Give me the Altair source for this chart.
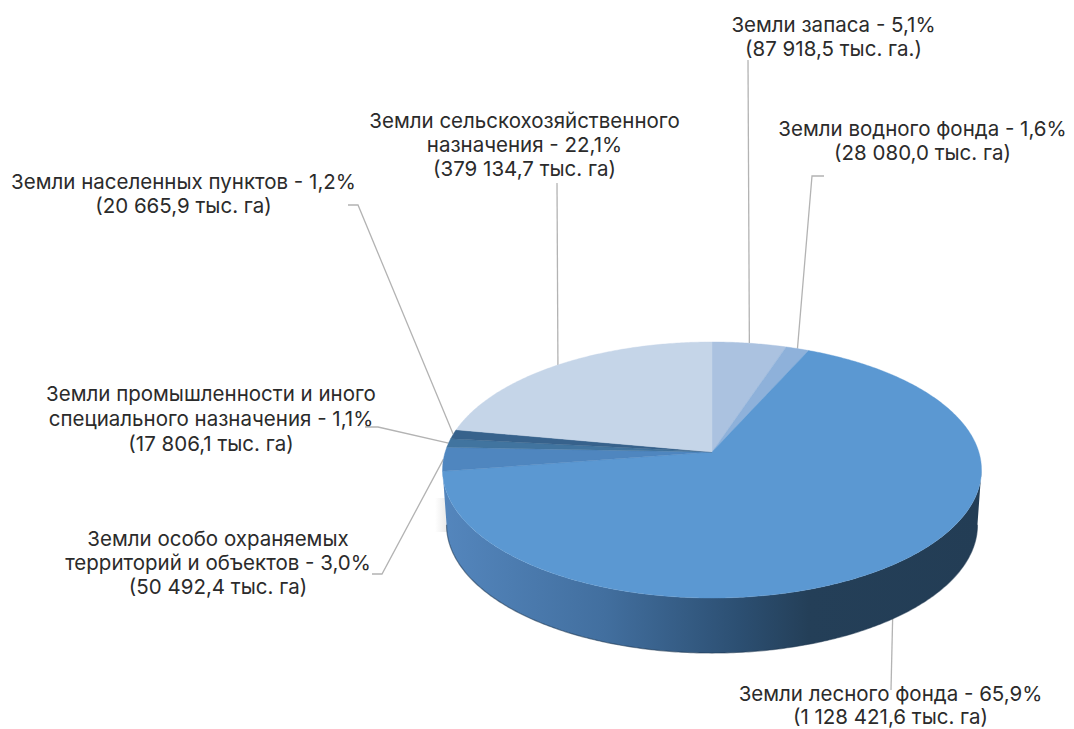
import math
import altair as alt

# ---- chart values, clockwise from 12 o'clock ----
shares = [5.1, 1.6, 65.9, 3.0, 1.1, 1.2, 22.1]
slice_names = ["Земли запаса", "Земли водного фонда", "Земли лесного фонда",
               "Земли особо охраняемых территорий и объектов",
               "Земли промышленности и иного специального назначения",
               "Земли населенных пунктов", "Земли сельскохозяйственного назначения"]
slice_colors = ["#abc2e0", "#8eb1da", "#5b98d2", "#4f86bf", "#41749f", "#37628c", "#c5d5e8"]

label_lines = [
    ["Земли запаса - 5,1%", "(87 918,5 тыс. га.)"],
    ["Земли водного фонда - 1,6%", "(28 080,0 тыс. га)"],
    ["Земли лесного фонда - 65,9%", "(1 128 421,6 тыс. га)"],
    ["Земли особо охраняемых", "территорий и объектов - 3,0%", "(50 492,4 тыс. га)"],
    ["Земли промышленности и иного", "специального назначения - 1,1%", "(17 806,1 тыс. га)"],
    ["Земли населенных пунктов - 1,2%", "(20 665,9 тыс. га)"],
    ["Земли сельскохозяйственного", "назначения - 22,1%", "(379 134,7 тыс. га)"],
]

# ---- layout (page pixels) ----
W, H = 1058, 721
OFF = 8
CX, CY = 712.0, 452.0
RX, RY, K = 266.8, 125.5, 0.1406
DEPTH = 55.0
label_x = [833.5, 922.5, 890.5, 218, 211, 183.5, 524.5]
label_y = [[32, 56], [136, 160], [701, 724], [546, 570, 594], [401, 426, 451], [189, 213], [128, 152, 176]]
leader_via = [
    [(748, 60)],
    [(812, 176), (824, 176)],
    [(891, 690)],
    [(382, 574), (372, 574)],
    [(378, 427), (365, 427)],
    [(358, 205), (348, 205)],
    [(557, 183)],
]


def rim(theta):
    u, v = math.sin(theta), math.cos(theta)
    w = 1 + K * v
    return CX + RX * u / w - OFF, CY - RY * v / w - OFF


def arc(a, b, step=0.01):
    n = max(2, int(abs(b - a) / step))
    return [rim(a + (b - a) * i / n) for i in range(n + 1)]


def feature(ring, **props):
    ring = [list(p) for p in ring]
    ring.append(ring[0])
    return {"type": "Feature", "geometry": {"type": "Polygon", "coordinates": [ring]}, "properties": props}


# top face slices and leaders derived from the shares
features, leaders, mids = [], [], []
cum = 0.0
total = sum(shares)
for i, (s, name, col) in enumerate(zip(shares, slice_names, slice_colors)):
    a = cum / total * 2 * math.pi
    b = (cum + s) / total * 2 * math.pi
    features.append(feature([(CX - OFF, CY - OFF)] + arc(a, b), name=name, color=col))
    mids.append(rim((a + b) / 2))
    cum += s

for i, via in enumerate(leader_via):
    pts = [mids[i]] + [(x - OFF, y - OFF) for x, y in via]
    for j, (x, y) in enumerate(pts):
        leaders.append({"id": i, "o": j, "x": x, "y": y})

text_rows = []
for lines, x, ys in zip(label_lines, label_x, label_y):
    for line, y in zip(lines, ys):
        text_rows.append({"t": line, "x": x - OFF, "y": y - OFF})

# side wall of the disc
a0, a1 = math.radians(98), math.radians(262)
upper = arc(a0, a1)
cxp = CX - OFF
lower = [(cxp + (x - cxp) * 0.985, y + DEPTH) for x, y in reversed(upper)]
wall = [feature(upper + lower, name="wall")]
edge = [{"o": i, "x": x, "y": y} for i, (x, y) in enumerate(lower)]

# faint soft shadow left of the wall
shadow = [feature([(x - OFF, y - OFF) for x, y in [(435, 498), (449, 498), (449, 532), (435, 532)]], name="shadow")]

proj = dict(type="identity", scale=1, translate=[0, 0])

shadow_layer = alt.Chart(alt.Data(values=shadow)).mark_geoshape(
    fill=alt.Gradient(gradient="linear", x1=0, x2=1, y1=0, y2=0, stops=[
        alt.GradientStop(color="#ffffff", offset=0),
        alt.GradientStop(color="#e6e6e6", offset=1),
    ]),
    strokeWidth=0,
).project(**proj)

wall_layer = alt.Chart(alt.Data(values=wall)).mark_geoshape(
    fill=alt.Gradient(gradient="linear", x1=0, x2=1, y1=0, y2=0, stops=[
        alt.GradientStop(color="#5486bd", offset=0),
        alt.GradientStop(color="#426f9f", offset=0.3),
        alt.GradientStop(color="#2c4f72", offset=0.55),
        alt.GradientStop(color="#243f58", offset=0.68),
        alt.GradientStop(color="#233d55", offset=1),
    ]),
    strokeWidth=0,
).project(**proj)

edge_layer = alt.Chart(alt.Data(values=edge)).mark_line(
    stroke="#1d3650", strokeWidth=1.2, opacity=0.55
).encode(
    x=alt.X("x:Q", scale=None, axis=None),
    y=alt.Y("y:Q", scale=None, axis=None),
    order="o:Q",
)

top_layer = alt.Chart(alt.Data(values=features)).mark_geoshape(strokeWidth=0.4).encode(
    fill=alt.Fill("properties.color:N", scale=None, legend=None),
    stroke=alt.Stroke("properties.color:N", scale=None, legend=None),
).project(**proj)

leader_layer = alt.Chart(alt.Data(values=leaders)).mark_line(color="#b3b3b3", strokeWidth=1.3).encode(
    x=alt.X("x:Q", scale=None, axis=None),
    y=alt.Y("y:Q", scale=None, axis=None),
    detail="id:N",
    order="o:Q",
)

text_layer = alt.Chart(alt.Data(values=text_rows)).mark_text(
    font="Inter", fontSize=20.5, color="#2b2b2b", align="center", baseline="alphabetic"
).encode(
    x=alt.X("x:Q", scale=None, axis=None),
    y=alt.Y("y:Q", scale=None, axis=None),
    text="t:N",
)

chart = alt.layer(leader_layer, shadow_layer, wall_layer, edge_layer, top_layer, text_layer).properties(
    width=W, height=H, padding=0, autosize=alt.AutoSizeParams(type="none"), background="white"
).configure_view(stroke=None)

chart.save("out.html", embed_options={"renderer": "svg", "actions": False})
